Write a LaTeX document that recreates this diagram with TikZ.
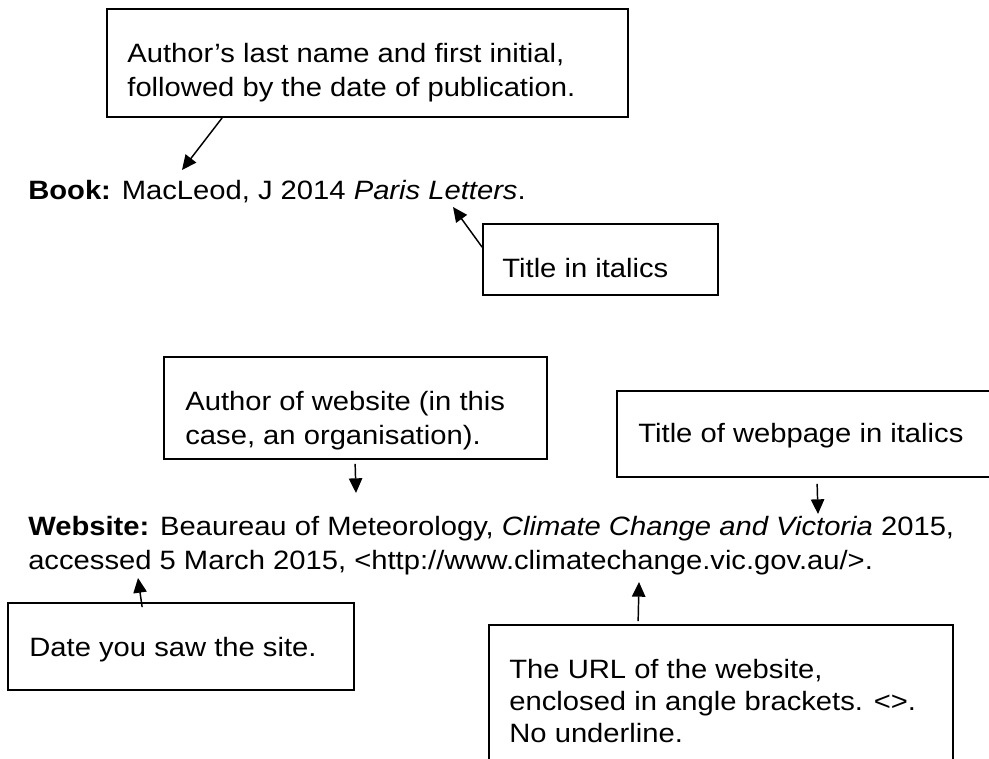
\documentclass[tikz,border=0pt]{standalone}
\usepackage{fontspec}
\setmainfont{Liberation Sans}[FakeStretch=1.1]
\usetikzlibrary{arrows.meta,calc,fit,positioning}

\begin{document}
\begin{tikzpicture}[x=0.75pt, y=-0.75pt,
  every node/.style={font=\fontsize{19.9}{25}\selectfont},
  note/.style={draw, line width=1.3pt, inner sep=0pt},
  words/.style={anchor=base west, inner sep=0pt, align=left},
  pointer/.style={line width=1.1pt, -{Triangle[width=10pt,length=11pt]}}]
  % page
  \clip (0,0) rectangle (989,758);

  % Book entry
  \node[words] (book) at (28,199) {\textbf{Book:} MacLeod, J 2014 \textit{Paris Letters}.};

  \node[note, fit={(107,9) (628,117)}] (authbox) {};
  \node[words] (authtext) at ($(authbox.north west)+(21,88)$) {Author's last name and first initial,\\followed by the date of publication.};

  \node[note, fit={(483,224) (718,295)}] (titlebox) {};
  \node[words] (titletext) at ($(titlebox.north west)+(20,54)$) {Title in italics};

  \coordinate (authtip) at (182,170);
  \coordinate (titletip) at (453,207);
  \draw[pointer] ($(authbox.south west)+(116,0)$) -- (authtip);
  \draw[pointer] ($(titlebox.north west)+(0,24)$) -- (titletip);

  % Website entry
  \node[words, font=\fontsize{19.9}{25.5}\selectfont] (site) at (28,569) {\textbf{Website:} Beaureau of Meteorology, \textit{Climate Change and Victoria} 2015,\\accessed 5 March 2015, <http://www.climatechange.vic.gov.au/>.};

  \node[note, fit={(164,357) (547,459)}] (webauthbox) {};
  \node[words] (webauthtext) at ($(webauthbox.north west)+(22,88)$) {Author of website (in this\\case, an organisation).};

  \node[note, fit={(617,391) (1010,477)}] (webtitlebox) {};
  \node[words] (webtitletext) at ($(webtitlebox.north west)+(22,52)$) {Title of webpage in italics};

  \node[note, fit={(8,603) (354,690)}] (datebox) {};
  \node[words] (datetext) at ($(datebox.north west)+(22,54)$) {Date you saw the site.};

  \node[note, fit={(489,625) (953,790)}] (urlbox) {};
  \node[words, font=\fontsize{19.9}{24}\selectfont] (urltext) at ($(urlbox.north west)+(21,118)$) {The URL of the website,\\enclosed in angle brackets. <>.\\No underline.};

  \coordinate (webauthtip) at (356,493);
  \coordinate (webtitletip) at (818,514);
  \coordinate (datetip) at (138,578);
  \coordinate (urltip) at (639,582);
  \draw[pointer] ($(webauthbox.south west)+(192,4)$) -- (webauthtip);
  \draw[pointer] ($(webtitlebox.south west)+(201,6)$) -- (webtitletip);
  \draw[pointer] ($(datebox.north west)+(135,5)$) -- (datetip);
  \draw[pointer] ($(urlbox.north west)+(150,-3)$) -- (urltip);
\end{tikzpicture}
\end{document}
